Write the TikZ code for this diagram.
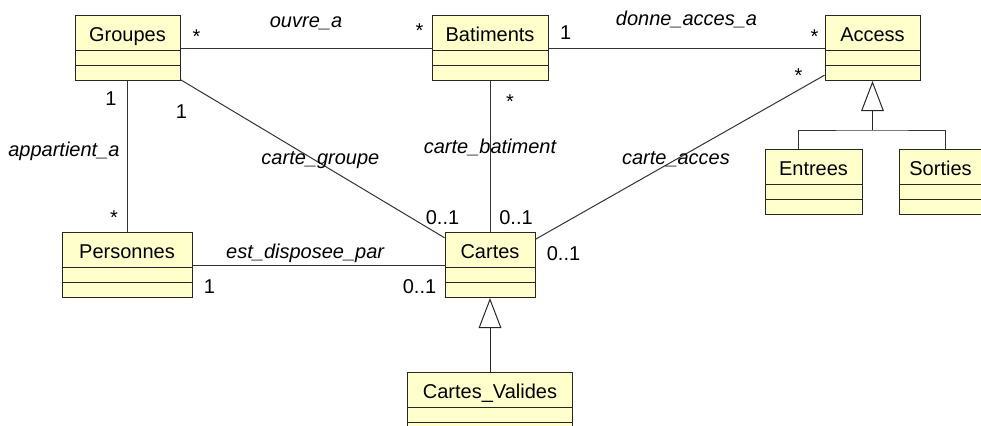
\documentclass[tikz,border=0pt]{standalone}
\usepackage{fontspec}
\setmainfont{Liberation Sans}
\usetikzlibrary{arrows.meta,positioning,shapes.multipart}
\definecolor{umlyel}{HTML}{FFFFCC}

\begin{document}
\begin{tikzpicture}[x=0.75pt, y=-0.75pt, every node/.style={font=\fontsize{15}{18}\selectfont}]
\tikzset{cls/.style={rectangle split, rectangle split parts=3, draw=black!85, fill=umlyel, line width=0.75pt, inner xsep=0pt, inner ysep=0pt, rectangle split empty part height=10.5pt, rectangle split empty part depth=0pt, execute at begin node={\rule[-6.75pt]{0pt}{25.5pt}}}}
\tikzset{assoc/.style={draw=black!80, line width=0.75pt}}
\tikzset{isa/.style={draw=black!85, line width=0.75pt, -{Triangle[open, length=22.5pt, width=17pt]}}}
\tikzset{lbl/.style={font=\fontsize{15}{18}\selectfont\itshape, anchor=base, inner sep=0pt}}
\tikzset{mult/.style={anchor=base, inner sep=0pt}}
\useasboundingbox (0,0) rectangle (981,425);
% classes
\node[cls, minimum width=87pt, anchor=north] (bat) at (490,15) {Batiments};
\node[cls, minimum width=78.75pt, left=188.25pt of bat] (grp) {Groupes};
\node[cls, minimum width=71.25pt, right=207pt of bat] (acc) {Access};
\node[cls, minimum width=67.5pt, below=113.25pt of bat] (cartes) {Cartes};
\node[cls, minimum width=97.5pt, left=189pt of cartes] (pers) {Personnes};
\node[cls, minimum width=123.75pt, below=55.5pt of cartes] (valides) {Cartes\_Valides};
\node[cls, minimum width=72.75pt, below=51pt of acc, xshift=-44.25pt] (entrees) {Entrees};
\node[cls, minimum width=62.25pt, right=27pt of entrees] (sorties) {Sorties};
% associations
\draw[assoc] (grp) -- node[lbl, midway, yshift=15.5pt] (l-ouvre) {ouvre\_a}
  node[mult, pos=0.064, yshift=3.4pt] (m-ouvre1) {*}
  node[mult, pos=0.952, yshift=7.9pt] (m-ouvre2) {*} (bat);
\draw[assoc] (bat) -- node[lbl, midway, yshift=17pt] (l-donne) {donne\_acces\_a}
  node[mult, pos=0.062, yshift=6.6pt] (m-donne1) {1}
  node[mult, pos=0.964, yshift=3.6pt] (m-donne2) {*} (acc);
\draw[assoc] (grp.south) -- node[lbl, midway, anchor=base east, xshift=-5.6pt] (l-app) {appartient\_a}
  node[mult, pos=0.159, xshift=-12.4pt] (m-app1) {1}
  node[mult, pos=0.947, xshift=-10.1pt] (m-app2) {*} (grp.south |- pers.north);
\draw[assoc] (grp) -- node[lbl, pos=0.53, yshift=-1.1pt] (l-cgrp) {carte\_groupe}
  node[mult, at start, xshift=0.75pt, yshift=-29.5pt] (m-cgrp1) {1}
  node[mult, at end, xshift=-1.5pt, yshift=9.75pt] (m-cgrp2) {0..1} (cartes);
\draw[assoc] (bat) -- node[lbl, midway, yshift=2.6pt] (l-cbat) {carte\_batiment}
  node[mult, pos=0.185, xshift=15pt] (m-cbat1) {*}
  node[mult, at end, xshift=19.5pt, yshift=6pt] (m-cbat2) {0..1} (cartes);
\draw[assoc] (acc) -- node[lbl, pos=0.514, yshift=-3.4pt] (l-cacc) {carte\_acces}
  node[mult, at start, xshift=-19.5pt, yshift=-5.6pt] (m-cacc1) {*}
  node[mult, at end, xshift=21pt, yshift=-16.3pt] (m-cacc2) {0..1} (cartes);
\draw[assoc] (pers) -- node[lbl, pos=0.447, yshift=5.25pt] (l-est) {est\_disposee\_par}
  node[mult, at start, xshift=12.75pt, yshift=-21pt] (m-est1) {1}
  node[mult, at end, xshift=-18.75pt, yshift=-21.4pt] (m-est2) {0..1} (cartes);
% generalisations
\draw[isa] (valides) -- (cartes);
\coordinate[below=36.75pt of acc] (gen);
\draw[isa] (gen) -- (acc);
\draw[assoc] ([xshift=-11.6pt]entrees.north) |- (gen) -| ([xshift=3.4pt]sorties.north);
\end{tikzpicture}
\end{document}
